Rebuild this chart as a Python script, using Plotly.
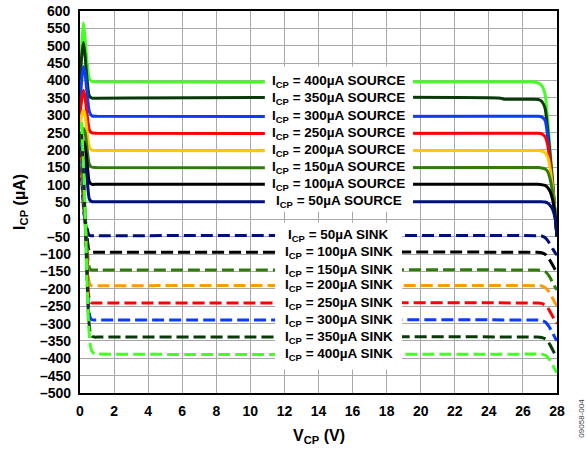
import plotly.graph_objects as go

# ---------------- data ----------------
src_names = ["400µA SOURCE", "350µA SOURCE", "300µA SOURCE", "250µA SOURCE",
             "200µA SOURCE", "150µA SOURCE", "100µA SOURCE", "50µA SOURCE"]
snk_names = ["50µA SINK", "100µA SINK", "150µA SINK", "200µA SINK",
             "250µA SINK", "300µA SINK", "350µA SINK", "400µA SINK"]

src_colors = ["#44FF22", "#0A3A0A", "#0A3CFF", "#FF0000",
              "#FFC800", "#2E7D0A", "#000000", "#00107A"]
snk_colors = ["#00107A", "#000000", "#2E7D0A", "#FF9A00",
              "#FF0000", "#0A3CFF", "#0A3A0A", "#44FF22"]

# source curves (VCP in V, ICP in µA)
src_x = [0, 0.1, 0.2, 0.3, 0.42, 0.55, 0.7, 1.0, 24.7, 24.9,
         26.6, 26.9, 27.1, 27.3, 27.45, 27.6, 27.75, 27.9, 28.0]
src_400 = [300, 500, 566, 520, 450, 405, 397, 396, 396, 396,
           396, 392, 385, 360, 290, 200, 110, 10, -50]
src_350 = [400, 470, 510, 470, 400, 355, 349, 349, 349, 346,
           346, 345, 340, 320, 260, 180, 100, 10, -50]
src_300 = [330, 400, 440, 420, 360, 310, 298, 297, 297, 297,
           297, 297, 295, 285, 240, 170, 95, 10, -50]
src_250 = [300, 345, 372, 350, 300, 258, 249, 248, 248, 248,
           248, 248, 246, 238, 215, 160, 90, 10, -50]
src_200 = [260, 300, 315, 300, 250, 208, 199, 198, 198, 198,
           198, 198, 197, 192, 180, 145, 85, 10, -50]
src_150 = [220, 250, 262, 250, 200, 158, 150, 149, 149, 149,
           149, 149, 148, 145, 138, 115, 75, 10, -50]
src_100 = [170, 210, 225, 210, 160, 108, 101, 101, 101, 101,
           101, 101, 100, 98, 92, 80, 55, 5, -50]
src_50 = [140, 170, 180, 165, 115, 58, 51, 51, 51, 51,
          51, 51, 51, 50, 47, 40, 28, 0, -50]

# sink curves
snk_x = [0.1, 0.25, 0.4, 0.5, 0.6, 0.7, 0.85, 1.1,
         26.8, 27.1, 27.35, 27.55, 27.75, 27.9, 28.0]
snk_50 = [120, 10, -20, -42, -47, -47, -47, -47,
          -47, -48, -55, -68, -85, -97, -103]
snk_100 = [140, 20, -40, -85, -94, -95, -95, -95,
           -95, -96, -102, -115, -132, -145, -152]
snk_150 = [160, 30, -60, -130, -144, -146, -146, -146,
           -146, -147, -152, -164, -182, -196, -203]
snk_200 = [180, 40, -80, -170, -188, -191, -191, -191,
           -191, -192, -198, -210, -228, -242, -249]
snk_250 = [200, 50, -100, -215, -237, -241, -241, -241,
           -241, -242, -248, -262, -280, -293, -300]
snk_300 = [220, 60, -120, -250, -283, -289, -290, -290,
           -290, -291, -297, -310, -328, -342, -349]
snk_350 = [250, 80, -150, -280, -325, -336, -339, -339,
           -339, -340, -345, -358, -376, -390, -397]
snk_400 = [280, 100, -150, -300, -360, -380, -387, -388,
           -388, -388, -392, -403, -420, -434, -442]

src_series = [src_400, src_350, src_300, src_250, src_200, src_150, src_100, src_50]
snk_series = [snk_50, snk_100, snk_150, snk_200, snk_250, snk_300, snk_350, snk_400]

x_ticks = list(range(0, 29, 2))
y_ticks = list(range(-500, 601, 50))
y_ticktext = ["–500", "–450", "–400", "–350", "–300", "–250", "–200", "–150",
              "–100", "–50", "0", "50", "100", "150", "200", "250", "300",
              "350", "400", "450", "500", "550", "600"]

# ---------------- figure ----------------
fig = go.Figure()

for ys, c in zip(src_series, src_colors):
    fig.add_trace(go.Scatter(x=src_x, y=ys, mode="lines",
                             line=dict(color=c, width=3, shape="spline", smoothing=0.6),
                             showlegend=False, hoverinfo="skip"))
for ys, c in zip(snk_series, snk_colors):
    fig.add_trace(go.Scatter(x=snk_x, y=ys, mode="lines",
                             line=dict(color=c, width=3, dash="12px,5px",
                                       shape="spline", smoothing=0.6),
                             showlegend=False, hoverinfo="skip"))

# white label boxes over the curves
fig.add_shape(type="rect", xref="x", yref="y", x0=10.85, x1=19.55, y0=22, y1=440,
              fillcolor="white", line=dict(width=0), layer="above")
fig.add_shape(type="rect", xref="x", yref="y", x0=11.45, x1=18.9, y0=-432, y1=-10,
              fillcolor="white", line=dict(width=0), layer="above")

FONT = "Liberation Sans, Arial"
lab_font = dict(family=FONT, size=13.5, color="black", weight="bold")
for name, ys in zip(src_names, src_series):
    fig.add_annotation(x=15.2, y=ys[8], xref="x", yref="y",
                       text="I<sub>CP</sub> = " + name, showarrow=False,
                       font=lab_font, xanchor="center", yanchor="middle")
for name, ys in zip(snk_names, snk_series):
    fig.add_annotation(x=15.2, y=ys[8], xref="x", yref="y",
                       text="I<sub>CP</sub> = " + name, showarrow=False,
                       font=lab_font, xanchor="center", yanchor="middle")

tick_font = dict(family=FONT, size=14, color="black", weight="bold")

# y tick labels, placed on the y scale just left of the axis
for v, t in zip(y_ticks, y_ticktext):
    fig.add_annotation(x=-0.0153, y=v, xref="paper", yref="y", text=t,
                       showarrow=False, xanchor="right", yanchor="middle",
                       font=tick_font)

# axis titles
fig.add_annotation(x=-0.126, y=0.5, xref="paper", yref="paper",
                   text="I<sub>CP</sub> (µA)", textangle=-90, showarrow=False,
                   xanchor="center", yanchor="middle",
                   font=dict(family=FONT, size=16, color="black", weight="bold"))
fig.add_annotation(x=0.5, y=-0.115, xref="paper", yref="paper",
                   text="V<sub>CP</sub> (V)", showarrow=False,
                   xanchor="center", yanchor="middle",
                   font=dict(family=FONT, size=16, color="black", weight="bold"))
fig.add_annotation(x=1.052, y=-0.065, xref="paper", yref="paper",
                   text="09058-004", textangle=-90, showarrow=False,
                   xanchor="center", yanchor="middle",
                   font=dict(family=FONT, size=8, color="#444"))

fig.update_xaxes(range=[0, 28], tickvals=x_ticks, showgrid=True, gridcolor="#A8A8A8",
                 gridwidth=1, showline=True, linecolor="black", linewidth=2, mirror=True,
                 zeroline=False, tickfont=tick_font, automargin=False,
                 ticks="outside", ticklen=4, tickcolor="rgba(0,0,0,0)",
                 ticklabeloverflow="allow")
fig.update_yaxes(range=[-500, 600], tickvals=y_ticks, showgrid=True,
                 gridcolor="#A8A8A8", gridwidth=1, showline=True, linecolor="black",
                 linewidth=2, mirror=True, zeroline=False, showticklabels=False,
                 ticks="", automargin=False)

fig.update_layout(width=587, height=451, margin=dict(l=80, r=30, t=11, b=58),
                  paper_bgcolor="white", plot_bgcolor="white", showlegend=False)

# remove the default page margin so the figure sits at the window's corner
fig.write_html("out.html", config={"displayModeBar": False},
               post_script="document.body.style.margin='0';")
